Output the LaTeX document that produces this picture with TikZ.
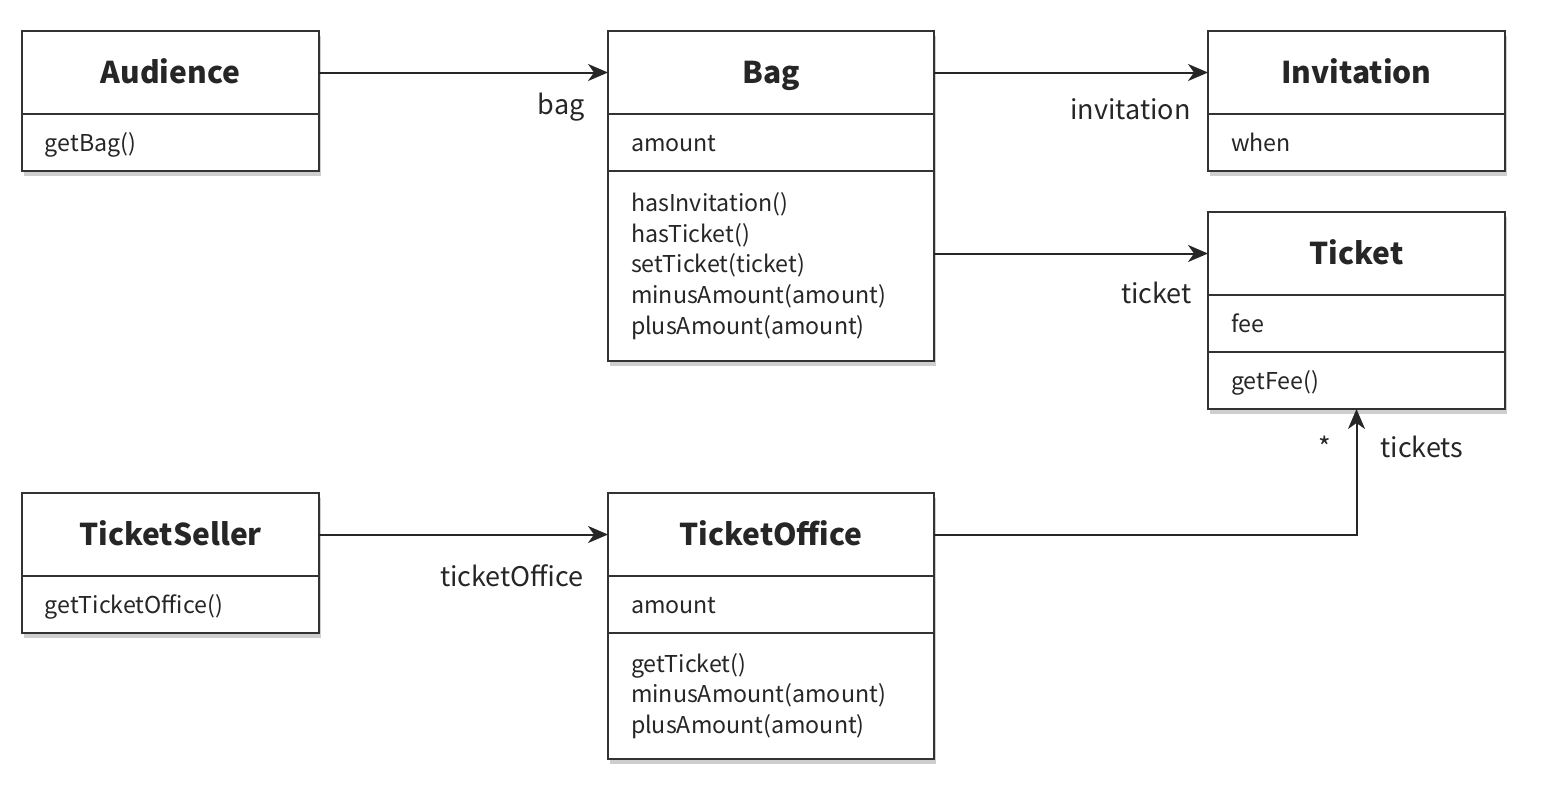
\documentclass[tikz,border=0pt]{standalone}
\usepackage{fontspec}
\setmainfont{Noto Sans CJK KR}
\usetikzlibrary{arrows.meta,positioning,shadows}

\tikzset{
  box/.style={draw=black!80, line width=1pt, fill=white, text=black!85,
    drop shadow={shadow xshift=1.2pt, shadow yshift=-2.4pt, fill=black!35, opacity=0.55},
    inner xsep=11.5pt, inner ysep=0pt, outer sep=0pt},
  head/.style={box, font=\bfseries\fontsize{15}{18}\selectfont, align=center,
    minimum height=41.5pt, text height=13pt, text depth=2.5pt},
  part/.style={box, font=\fontsize{11.6}{15.4}\selectfont, align=left,
    minimum height=28.5pt, text height=10.8pt, text depth=1.6pt},
  ops/.style={box, font=\fontsize{11.6}{15.4}\selectfont, align=left},
  narrow/.style={text width=125.5pt},
  wide/.style={text width=140pt},
  lbl/.style={font=\fontsize{13.5}{16}\selectfont, text=black!85, inner sep=0pt},
  link/.style={-{Stealth[length=10pt,width=8.5pt,inset=3pt]}, line width=1pt, draw=black!85},
}

\begin{document}
\begin{tikzpicture}[x=0.5pt, y=-0.5pt]
  \useasboundingbox (0,0) rectangle (1554,800);

  % Audience
  \node[head, narrow, anchor=north west] (aud) at (22,31) {Audience};
  \node[part, narrow, below=0pt of aud] (audops) {getBag()};

  % Bag
  \node[head, wide, anchor=north west] (bag) at (608,31) {Bag};
  \node[part, wide, below=0pt of bag] (bagattr) {amount};
  \node[ops, wide, minimum height=95pt, below=0pt of bagattr] (bagops)
    {hasInvitation()\\hasTicket()\\setTicket(ticket)\\minusAmount(amount)\\plusAmount(amount)};

  % Invitation
  \node[head, narrow, anchor=north west] (inv) at (1208,31) {Invitation};
  \node[part, narrow, below=0pt of inv] (invattr) {when};

  % Ticket
  \node[head, narrow, anchor=north west] (tkt) at (1208,212) {Ticket};
  \node[part, narrow, below=0pt of tkt] (tktattr) {fee};
  \node[part, narrow, below=0pt of tktattr] (tktops) {getFee()};

  % TicketSeller
  \node[head, narrow, anchor=north west] (seller) at (22,493) {TicketSeller};
  \node[part, narrow, below=0pt of seller] (sellerops) {getTicketOffice()};

  % TicketOffice
  \node[head, wide, anchor=north west] (office) at (608,493) {TicketOffice};
  \node[part, wide, below=0pt of office] (officeattr) {amount};
  \node[ops, wide, minimum height=63pt, below=0pt of officeattr] (officeops)
    {getTicket()\\minusAmount(amount)\\plusAmount(amount)};

  % associations
  \draw[link] (aud.east) -- (bag.west);
  \draw[link] (bag.east) -- (inv.west);
  \draw[link] (bagops.east |- tkt.west) -- (tkt.west);
  \draw[link] (seller.east) -- (office.west);
  \draw[link] (office.east) -| (tktops.south);

  % role names
  \node[lbl, anchor=east] (lbag) at ([xshift=-11.5pt, yshift=-17.5pt] bag.west) {bag};
  \node[lbl, anchor=east] (linv) at ([xshift=-8.5pt, yshift=-18.5pt] inv.west) {invitation};
  \node[lbl, anchor=east] (ltkt) at ([xshift=-8pt, yshift=-19.5pt] tkt.west) {ticket};
  \node[lbl, anchor=east] (loffice) at ([xshift=-12pt, yshift=-20.5pt] office.west) {ticketOffice};
  \node[lbl] (lmany) at ([xshift=-15.75pt, yshift=-19pt] tktops.south) {*};
  \node[lbl, anchor=west] (ltkts) at ([xshift=11.75pt, yshift=-19pt] tktops.south) {tickets};
\end{tikzpicture}
\end{document}
